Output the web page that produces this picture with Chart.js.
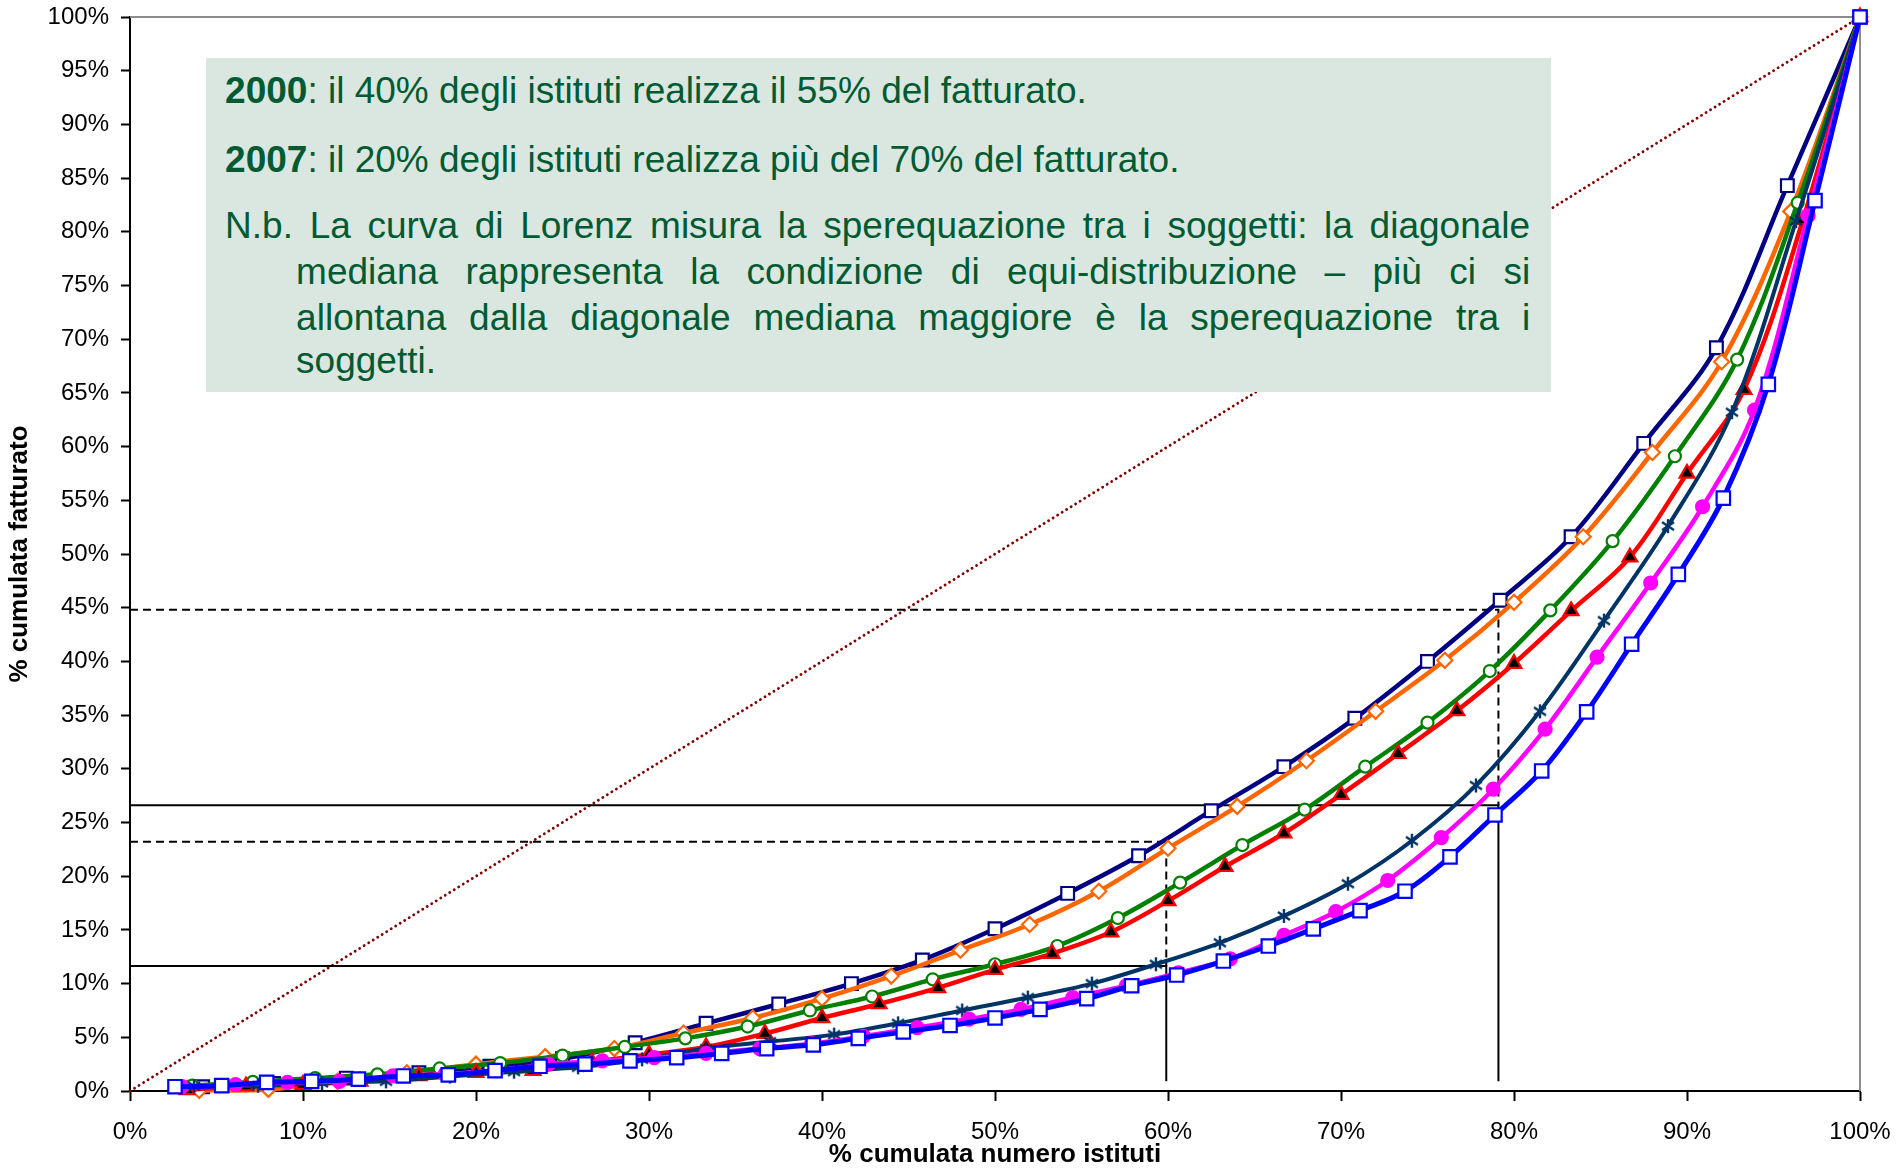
<!DOCTYPE html>
<html>
<head>
<meta charset="utf-8">
<script src="https://cdn.jsdelivr.net/npm/chart.js@4.4.1/dist/chart.umd.min.js"></script>
<style>
html,body{margin:0;padding:0;background:#fff;overflow:hidden}
#wrap{position:relative;width:1897px;height:1170px}
#note{position:absolute;background:#DAE6E0;color:#005A32;font-family:"Liberation Sans",Arial,sans-serif;font-size:37px;box-sizing:border-box}
#note .ln{position:absolute;height:40px;line-height:40px;white-space:nowrap}
#note .j{text-align:justify;text-align-last:justify;white-space:normal}
</style>
</head>
<body>
<div id="wrap">
<canvas id="c" width="1897" height="1170"></canvas>
<div id="note">
  <div class="ln" style="left:19px;top:13px"><b>2000</b>: il 40% degli istituti realizza il 55% del fatturato.</div>
  <div class="ln" style="left:19px;top:82px"><b>2007</b>: il 20% degli istituti realizza più del 70% del fatturato.</div>
  <div class="ln j" style="left:19px;width:1305px;top:148px">N.b. La curva di Lorenz misura la sperequazione tra i soggetti: la diagonale</div>
  <div class="ln j" style="left:90px;width:1234px;top:194px">mediana rappresenta la condizione di equi-distribuzione – più ci si</div>
  <div class="ln j" style="left:90px;width:1234px;top:240px">allontana dalla diagonale mediana maggiore è la sperequazione tra i</div>
  <div class="ln" style="left:90px;top:283px">soggetti.</div>
</div>
</div>
<script>
// ---- data (percent values) ----
const navyX = [4.2, 8.3, 12.5, 16.7, 20.8, 25.0, 29.2, 33.3, 37.5, 41.7, 45.8, 50.0, 54.2, 58.3, 62.5, 66.7, 70.8, 75.0, 79.2, 83.3, 87.5, 91.7, 95.8, 100];
const navyY = [0.4, 0.7, 1.2, 1.7, 2.3, 3.0, 4.5, 6.3, 8.1, 10.0, 12.2, 15.1, 18.4, 21.9, 26.1, 30.2, 34.7, 40.0, 45.7, 51.6, 60.3, 69.2, 84.3, 100];

const orangeX = [4, 8, 12, 16, 20, 24, 28, 32, 36, 40, 44, 48, 52, 56, 60, 64, 68, 72, 76, 80, 84, 88, 92, 96, 100];
const orangeY = [0.05, 0.15, 0.9, 1.7, 2.5, 3.2, 3.95, 5.4, 6.8, 8.6, 10.7, 13.1, 15.5, 18.6, 22.6, 26.5, 30.75, 35.35, 40.1, 45.5, 51.6, 59.45, 67.9, 81.9, 100];

const greenX = [3.6, 7.1, 10.7, 14.3, 17.9, 21.4, 25.0, 28.6, 32.1, 35.7, 39.3, 42.9, 46.4, 50.0, 53.6, 57.1, 60.7, 64.3, 67.9, 71.4, 75.0, 78.6, 82.1, 85.7, 89.3, 92.9, 96.4, 100];
const greenY = [0.5, 0.85, 1.2, 1.55, 2.1, 2.6, 3.3, 4.1, 4.9, 6.0, 7.5, 8.8, 10.4, 11.8, 13.5, 16.1, 19.4, 22.9, 26.2, 30.2, 34.3, 39.1, 44.75, 51.2, 59.1, 68.1, 82.7, 100];

const redX = [3.3, 6.7, 10, 13.3, 16.7, 20, 23.3, 26.7, 30, 33.3, 36.7, 40, 43.3, 46.7, 50, 53.3, 56.7, 60, 63.3, 66.7, 70, 73.3, 76.7, 80, 83.3, 86.7, 90, 93.3, 96.7, 100];
const redY = [0.1, 0.45, 0.6, 0.9, 1.4, 1.7, 1.9, 2.7, 3.4, 4.1, 5.35, 6.8, 8.1, 9.6, 11.3, 12.8, 14.8, 17.7, 20.9, 24.0, 27.6, 31.4, 35.4, 39.8, 44.7, 49.7, 57.5, 65.3, 81.1, 100];

const slateX = [3.7, 7.4, 11.1, 14.8, 18.5, 22.2, 25.9, 29.6, 33.3, 37.0, 40.7, 44.4, 48.1, 51.9, 55.6, 59.3, 63.0, 66.7, 70.4, 74.1, 77.8, 81.5, 85.2, 88.9, 92.6, 96.3, 100];
const slateY = [0.45, 0.5, 0.75, 0.9, 1.35, 1.8, 2.2, 2.95, 3.95, 4.6, 5.25, 6.3, 7.5, 8.7, 10.0, 11.8, 13.8, 16.3, 19.3, 23.3, 28.45, 35.35, 43.8, 52.6, 63.2, 81.0, 100];

const magentaX = [3.0, 6.1, 9.1, 12.1, 15.2, 18.2, 21.2, 24.2, 27.3, 30.3, 33.3, 36.4, 39.4, 42.4, 45.5, 48.5, 51.5, 54.5, 57.6, 60.6, 63.6, 66.7, 69.7, 72.7, 75.8, 78.8, 81.8, 84.8, 87.9, 90.9, 93.9, 97.0, 100];
const magentaY = [0.4, 0.6, 0.8, 0.9, 1.4, 1.55, 1.9, 2.5, 2.8, 3.1, 3.5, 3.95, 4.4, 5.1, 5.9, 6.7, 7.6, 8.7, 9.8, 11.0, 12.3, 14.5, 16.7, 19.6, 23.6, 28.1, 33.7, 40.4, 47.3, 54.4, 63.4, 81.5, 100];

const blueX = [2.6, 5.3, 7.9, 10.5, 13.2, 15.8, 18.4, 21.1, 23.7, 26.3, 28.9, 31.6, 34.2, 36.8, 39.5, 42.1, 44.7, 47.4, 50.0, 52.6, 55.3, 57.9, 60.5, 63.2, 65.8, 68.4, 71.1, 73.7, 76.3, 78.9, 81.6, 84.2, 86.8, 89.5, 92.1, 94.7, 97.4, 100];
const blueY = [0.4, 0.5, 0.8, 0.9, 1.1, 1.4, 1.5, 1.9, 2.3, 2.5, 2.8, 3.1, 3.5, 3.95, 4.3, 4.9, 5.5, 6.1, 6.8, 7.6, 8.6, 9.8, 10.8, 12.1, 13.5, 15.1, 16.8, 18.6, 21.8, 25.7, 29.8, 35.3, 41.6, 48.1, 55.2, 65.8, 82.9, 100];

const diagonalX = [0, 100];
const diagonalY = [0, 100];

// guide lines [x, y]
const guideDashedHigh = [[0, 44.8], [79.1, 44.8], [79.1, 26.6]];
const guideSolidHigh  = [[0, 26.6], [79.1, 26.6], [79.1, 0.9]];
const guideDashedLow  = [[0, 23.2], [59.9, 23.2], [59.9, 11.65]];
const guideSolidLow   = [[0, 11.65], [59.9, 11.65], [59.9, 0.9]];

const xTickLabels = ['0%','10%','20%','30%','40%','50%','60%','70%','80%','90%','100%'];
const yTickStep = 5;
const xTitle = '% cumulata numero istituti';
const yTitle = '% cumulata fatturato';

// note box placement in axis units
const noteBox = {x0: 4.4, x1: 82.15, y0: 96.2, y1: 65.1};

// ---- build ----
const FONT = '"Liberation Sans", Arial, sans-serif';
const pts = (xs, ys) => xs.map((x, i) => ({x: x, y: ys[i]}));
const pairs = arr => arr.map(p => ({x: p[0], y: p[1]}));

function asterisk(color) {
  const c = document.createElement('canvas');
  c.width = 16; c.height = 16;
  const g = c.getContext('2d');
  g.strokeStyle = color; g.lineWidth = 2.4; g.lineCap = 'butt';
  g.beginPath();
  g.moveTo(8, 1); g.lineTo(8, 15);
  g.moveTo(2, 4); g.lineTo(14, 12);
  g.moveTo(14, 4); g.lineTo(2, 12);
  g.stroke();
  return c;
}

function series(xs, ys, color, style, extra) {
  return Object.assign({
    data: pts(xs, ys),
    borderColor: color,
    borderWidth: 4.5,
    tension: 0.35,
    pointStyle: style,
    pointBorderColor: color,
    pointBackgroundColor: '#ffffff',
    pointBorderWidth: 2.2,
    pointRadius: 7,
    clip: false
  }, extra || {});
}

function guide(arr, dashed, order) {
  return {
    data: pairs(arr),
    borderColor: '#000',
    borderWidth: 2,
    borderDash: dashed ? [8, 5] : [],
    pointRadius: 0,
    tension: 0,
    order: order,
    clip: false
  };
}

const datasets = [
  series(blueX, blueY, '#0000FF', 'rect', {pointRadius: 9.5, borderWidth: 5, order: 1}),
  series(magentaX, magentaY, '#FF00FF', 'circle', {pointBackgroundColor: '#FF00FF', pointRadius: 6.5, order: 2}),
  series(slateX, slateY, '#003366', asterisk('#003366'), {borderWidth: 4, order: 3}),
  series(redX, redY, '#FF0000', 'triangle', {pointBackgroundColor: '#000000', pointRadius: 8.5, order: 4}),
  series(greenX, greenY, '#008000', 'circle', {pointRadius: 6, order: 5}),
  series(orangeX, orangeY, '#FF6600', 'rectRot', {pointRadius: 7.5, order: 6}),
  series(navyX, navyY, '#000080', 'rect', {pointRadius: 9, order: 7}),
  guide(guideDashedHigh, true, 10),
  guide(guideSolidHigh, false, 10),
  guide(guideDashedLow, true, 10),
  guide(guideSolidLow, false, 10),
  {
    data: pts(diagonalX, diagonalY),
    borderColor: '#800000',
    borderWidth: 2.8,
    borderDash: [0.1, 5.2],
    borderCapStyle: 'round',
    pointRadius: 0,
    order: 11,
    clip: false
  }
];

const frame = {
  id: 'frame',
  beforeDatasetsDraw(chart) {
    const a = chart.chartArea, g = chart.ctx;
    g.save();
    g.strokeStyle = '#8c8c8c';
    g.lineWidth = 2;
    g.beginPath();
    g.moveTo(a.left, a.top); g.lineTo(a.right, a.top); g.lineTo(a.right, a.bottom);
    g.stroke();
    g.restore();
  },
  afterRender(chart) {
    const sx = chart.scales.x, sy = chart.scales.y;
    const n = document.getElementById('note');
    const l = sx.getPixelForValue(noteBox.x0), r = sx.getPixelForValue(noteBox.x1);
    const t = sy.getPixelForValue(noteBox.y0), b = sy.getPixelForValue(noteBox.y1);
    n.style.left = l + 'px'; n.style.top = t + 'px';
    n.style.width = (r - l) + 'px'; n.style.height = (b - t) + 'px';
  }
};

new Chart(document.getElementById('c'), {
  type: 'line',
  data: {datasets: datasets},
  plugins: [frame],
  options: {
    responsive: false,
    animation: false,
    layout: {padding: {top: 17, right: 37, left: 0, bottom: 0}},
    plugins: {legend: {display: false}, tooltip: {enabled: false}},
    scales: {
      x: {
        type: 'linear', min: 0, max: 100,
        afterBuildTicks(s) { s.ticks = xTickLabels.map(t => ({value: parseFloat(t)})); },
        ticks: {callback: (v, i) => xTickLabels[i], color: '#000', font: {family: FONT, size: 24}, padding: 17, maxRotation: 0, autoSkip: false},
        grid: {drawOnChartArea: false, drawTicks: true, tickLength: 10, tickWidth: 2, tickColor: '#000'},
        border: {color: '#000', width: 2},
        title: {display: true, text: xTitle, color: '#000', font: {family: FONT, size: 26, weight: 'bold'}, padding: 0},
        afterFit(s) { s.height = 79; s.paddingLeft = 0; s.paddingRight = 0; }
      },
      y: {
        type: 'linear', min: 0, max: 100,
        ticks: {stepSize: yTickStep, callback: v => v + '%', color: '#000', font: {family: FONT, size: 24}, padding: 12},
        grid: {drawOnChartArea: false, drawTicks: true, tickLength: 9, tickWidth: 2, tickColor: '#000'},
        border: {color: '#000', width: 2},
        title: {display: true, text: yTitle, color: '#000', font: {family: FONT, size: 26, weight: 'bold'}, padding: {top: 4, bottom: 0}},
        afterFit(s) { s.width = 130; s.paddingTop = 0; s.paddingBottom = 0; }
      }
    }
  }
});
</script>
</body>
</html>
